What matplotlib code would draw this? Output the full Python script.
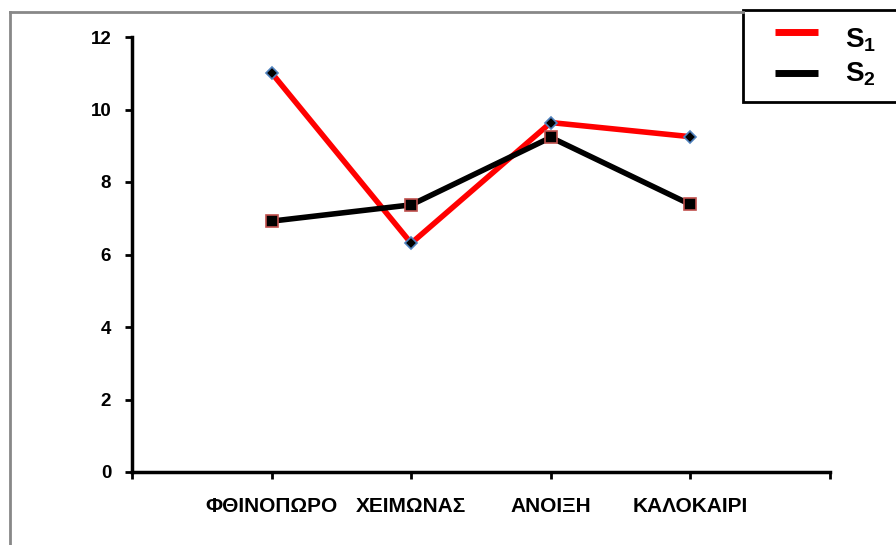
import matplotlib
matplotlib.use("Agg")
from matplotlib import pyplot as plt
from matplotlib.lines import Line2D
from matplotlib.patches import Rectangle

plt.rcParams['font.family'] = ['Liberation Sans', 'DejaVu Sans']
plt.rcParams['mathtext.fontset'] = 'custom'
plt.rcParams['mathtext.rm'] = 'Liberation Sans:bold'
plt.rcParams['mathtext.bf'] = 'Liberation Sans:bold'

# data
seasons = ["ΦΘΙΝΟΠΩΡΟ", "ΧΕΙΜΩΝΑΣ", "ΑΝΟΙΞΗ", "ΚΑΛΟΚΑΙΡΙ"]
s1 = [11.01, 6.31, 9.64, 9.25]
s2 = [6.92, 7.37, 9.23, 7.38]
y_ticks = [0, 2, 4, 6, 8, 10, 12]
names = [r'$\mathbf{S_1}$', r'$\mathbf{S_2}$']

W, H = 896, 545


# pixel (from top left) to figure fraction
def px(x, y):
    return x / W, 1 - y / H


fig = plt.figure(figsize=(W / 100, H / 100), dpi=100)
ax = fig.add_axes([132 / W, 73 / H, 698 / W, 435 / H])

x = range(1, len(seasons) + 1)
ax.plot(x, s1, color='#ff0000', lw=4, marker='D', markersize=6,
        markerfacecolor='black', markeredgecolor='#4f81bd', markeredgewidth=1.2,
        zorder=3)
ax.plot(x, s2, color='black', lw=4, marker='s', markersize=9,
        markerfacecolor='black', markeredgecolor='#c0504d', markeredgewidth=1.2,
        zorder=4)

ax.set_xlim(0, len(seasons) + 1)
ax.set_ylim(0, 12)
ax.set_yticks(y_ticks)
ax.set_yticklabels([str(t) for t in y_ticks], fontsize=13.5, fontweight='bold')
ax.set_xticks(range(0, len(seasons) + 2))
ax.set_xticklabels([""] + seasons + [""], fontsize=15, fontweight='bold')
ax.tick_params(axis='both', width=2, length=5, direction='out')
ax.tick_params(axis='x', pad=13)
ax.tick_params(axis='y', pad=10)
for side in ['top', 'right']:
    ax.spines[side].set_visible(False)
for side in ['left', 'bottom']:
    ax.spines[side].set_linewidth(2.5)

# outer chart frame (grey)
fig.add_artist(Line2D([10 / W, 10 / W], [0, 1 - 12 / H], color='#888888', lw=2))
fig.add_artist(Line2D([10 / W, 743 / W], [1 - 12 / H, 1 - 12 / H], color='#888888', lw=2))

# legend box, drawn by hand
x0, y0 = px(743, 102)
fig.add_artist(Rectangle((x0, y0), 1, 92 / H, transform=fig.transFigure,
                         facecolor='white', edgecolor='black', lw=2))
colors = ['#ff0000', 'black']
line_y = [32, 73]
text_y = [47, 82]
for c, ly, ty, name in zip(colors, line_y, text_y, names):
    xa, ya = px(775, ly)
    xb, _ = px(818, ly)
    fig.add_artist(Line2D([xa, xb], [ya, ya], color=c, lw=5, solid_capstyle='butt'))
    tx, tyf = px(845, ty)
    fig.text(tx, tyf, name, fontsize=20, va='baseline', ha='left')

fig.savefig("out.png", dpi=100)
